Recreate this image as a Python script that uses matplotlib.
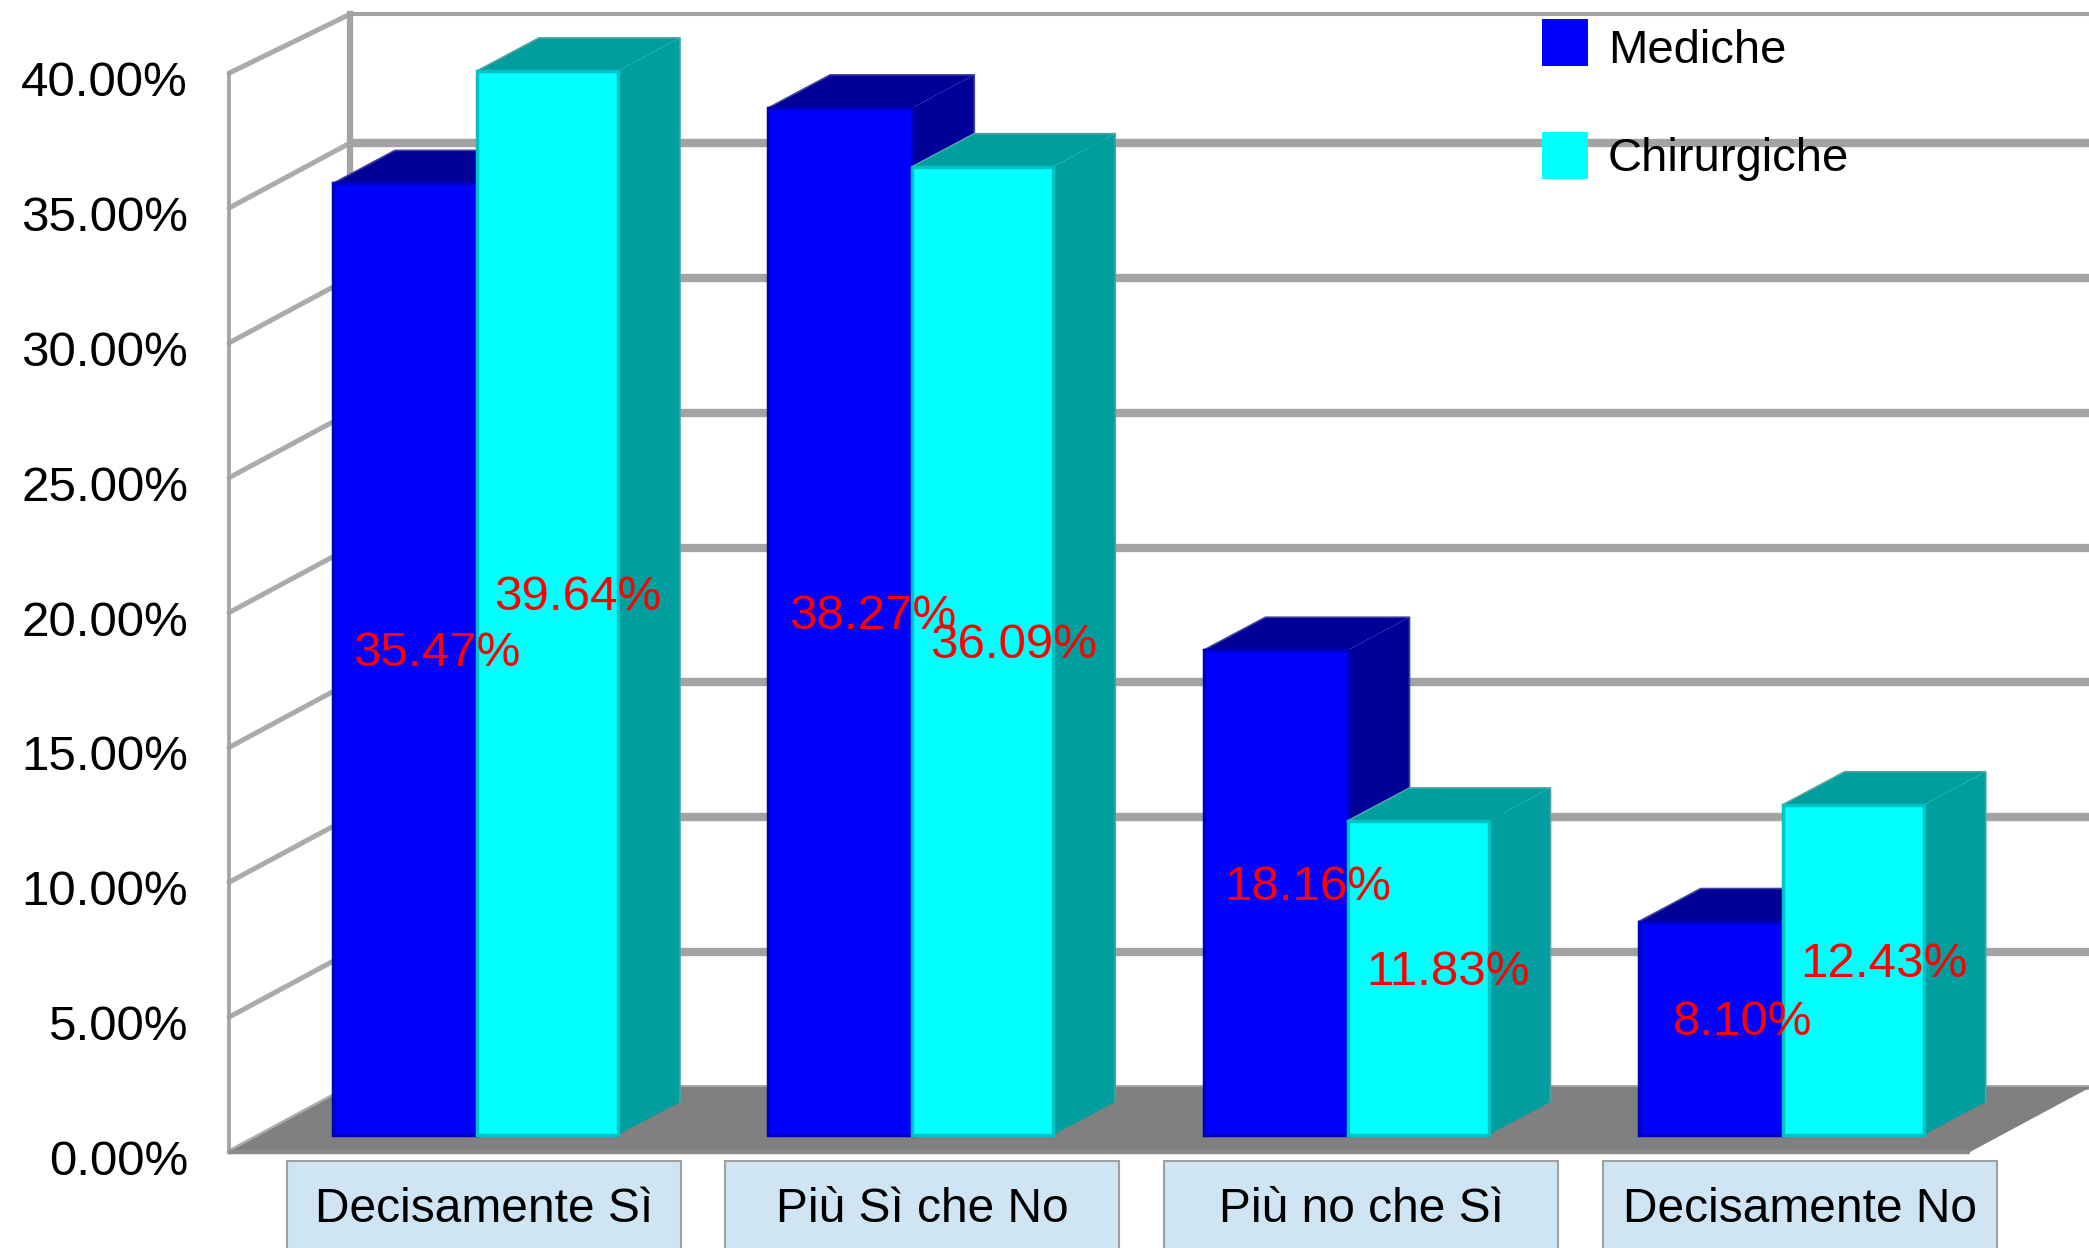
import matplotlib
matplotlib.use("Agg")
import matplotlib.pyplot as plt
from matplotlib.patches import Polygon, Rectangle

categorie = ["Decisamente Sì", "Più Sì che No", "Più no che Sì", "Decisamente No"]
mediche = [35.47, 38.27, 18.16, 8.10]
chirurgiche = [39.64, 36.09, 11.83, 12.43]
tick_valori = [0, 5, 10, 15, 20, 25, 30, 35, 40]
noms = ["Mediche", "Chirurgiche"]
couleurs = ["#0000ff", "#00ffff"]

# figure 2089x1248, un seul axes: x en categories, y en pourcent
W, H = 2089, 1248
PX_CAT = 435.25   # pixels par categorie
PX_PCT = 26.97    # pixels par point de pourcentage
X0_PX = 446.6     # pixel de x=0
Y0_PX = 1152      # pixel de y=0 (plan avant)

fig = plt.figure(figsize=(W / 100, H / 100), dpi=100)
ax = fig.add_axes([0, 0, 1, 1])
ax.set_xlim(-X0_PX / PX_CAT, (W - X0_PX) / PX_CAT)
ax.set_ylim((Y0_PX - H) / PX_PCT, Y0_PX / PX_PCT)
ax.axis("off")


def px_x(p):
    return (p - X0_PX) / PX_CAT


def px_y(p):
    return (Y0_PX - p) / PX_PCT


FONT = "Liberation Sans"
DX, DY = 121 / PX_CAT, 65 / PX_PCT   # profondeur du graphique
X_MIN, X_MAX = -0.5, 3.5
HAUT_BACK = 40 + DY - 6 / PX_PCT     # le haut du mur est un peu plus bas
LARG = 141 / PX_CAT
# facade des barres un peu en avant du mur
B_DX, B_DY = 29.4 / PX_CAT, 12 / PX_PCT
P_DX, P_DY = 62 / PX_CAT, 33 / PX_PCT
B_BAS = 0.19

GRIS = "#a3a3a3"

# sol
ax.add_patch(Polygon([(X_MIN, 0), (X_MAX, 0), (X_MAX + DX, DY), (X_MIN + DX, DY)],
                     fc="#808080", ec="none", zorder=2))
ax.plot([X_MIN, X_MAX], [0, 0], color="#8c8c8c", lw=3.2, zorder=2.1, solid_capstyle="butt")

# murs et grille
for v in tick_valori:
    yb = HAUT_BACK if v == 40 else v + DY
    ax.plot([X_MIN, X_MIN + DX], [v, yb], color="#ababab", lw=3.6, zorder=1, solid_capstyle="round")
    if v == 0:
        lw = 3.5
    elif v == 40:
        lw = 2.9
    else:
        lw = 6
    ax.plot([X_MIN + DX, px_x(W)], [yb, yb], color=GRIS, lw=lw, zorder=1, solid_capstyle="butt")
ax.plot([X_MIN, X_MIN], [0, 40], color=GRIS, lw=2.7, zorder=1)
ax.plot([X_MIN + DX, X_MIN + DX], [DY, HAUT_BACK], color=GRIS, lw=4.5, zorder=1)
ax.plot([X_MAX + DX, X_MAX + DX], [DY, HAUT_BACK], color="#b0b0b0", lw=1.5, zorder=1)


def barre(x0, larg, val, face, bord, cote, liseret, zo):
    x1 = x0 + larg
    b, h = B_BAS + B_DY, val + B_DY
    ax.add_patch(Polygon([(x1, b), (x1 + P_DX, b + P_DY), (x1 + P_DX, h + P_DY), (x1, h)],
                         fc=cote, ec="none", zorder=zo))
    ax.add_patch(Polygon([(x0, h), (x0 + P_DX, h + P_DY), (x1 + P_DX, h + P_DY), (x1, h)],
                         fc=cote, ec="none", zorder=zo))
    # petit liseret clair sur le bord de la barre
    ax.plot([x0, x0 + P_DX, x1 + P_DX, x1 + P_DX], [h, h + P_DY, h + P_DY, b + P_DY],
            color=liseret, lw=1.2, zorder=zo)
    ax.add_patch(Rectangle((x0, b), larg, val - B_BAS, fc=face, ec=bord, lw=2.5, zorder=zo + 0.1))


P1 = 1 / PX_CAT  # un pixel en x
for i in range(len(categorie)):
    barre(i - LARG + B_DX - 2 * P1, LARG + 3 * P1, mediche[i], "#0000ff", "#0000c4", "#000099", "#40409f", 3 + i)
    barre(i + B_DX + 1 * P1, LARG, chirurgiche[i], "#00ffff", "#00c4c4", "#009e9e", "#4fa3a3", 3.4 + i)

# etiquettes de valeurs
DECAL = 102 / PX_CAT
for i in range(len(categorie)):
    ax.text(i - LARG + B_DX + DECAL, mediche[i] / 2 + 0.27, f"{mediche[i]:.2f}%",
            color="red", fontsize=35.5, family=FONT, ha="center", va="baseline", zorder=20)
    ax.text(i + B_DX + DECAL, chirurgiche[i] / 2 + 0.27, f"{chirurgiche[i]:.2f}%",
            color="red", fontsize=35.5, family=FONT, ha="center", va="baseline", zorder=20)

# graduations
for v in tick_valori:
    ax.text(px_x(188), v - 23 / PX_PCT, f"{v:.2f}%", fontsize=35.5, family=FONT,
            ha="right", va="baseline", color="#000000")

# categories dans les boites bleues
for i, c in enumerate(categorie):
    cx = i * 1.008 + 37 / PX_CAT
    ax.text(cx, px_y(1222), c, fontsize=34.5, family=FONT, ha="center", va="baseline", zorder=6)
    ax.add_patch(Rectangle((cx - 197 / PX_CAT, px_y(H + 5)), 394 / PX_CAT, px_y(1161) - px_y(H + 5),
                           fc="#cfe5f3", ec="#a0a0a0", lw=1.5, zorder=5))

# legende
for k in range(2):
    ytop = px_y(19 + k * 113)
    ax.add_patch(Rectangle((px_x(1542), ytop - 47 / PX_PCT), 46 / PX_CAT, 47 / PX_PCT,
                           fc=couleurs[k], ec="none", zorder=7))
    ax.text(px_x(1608), px_y(63 + k * 108), noms[k], fontsize=34, family=FONT,
            ha="left", va="baseline", zorder=7)

fig.savefig("out.png", dpi=100)
